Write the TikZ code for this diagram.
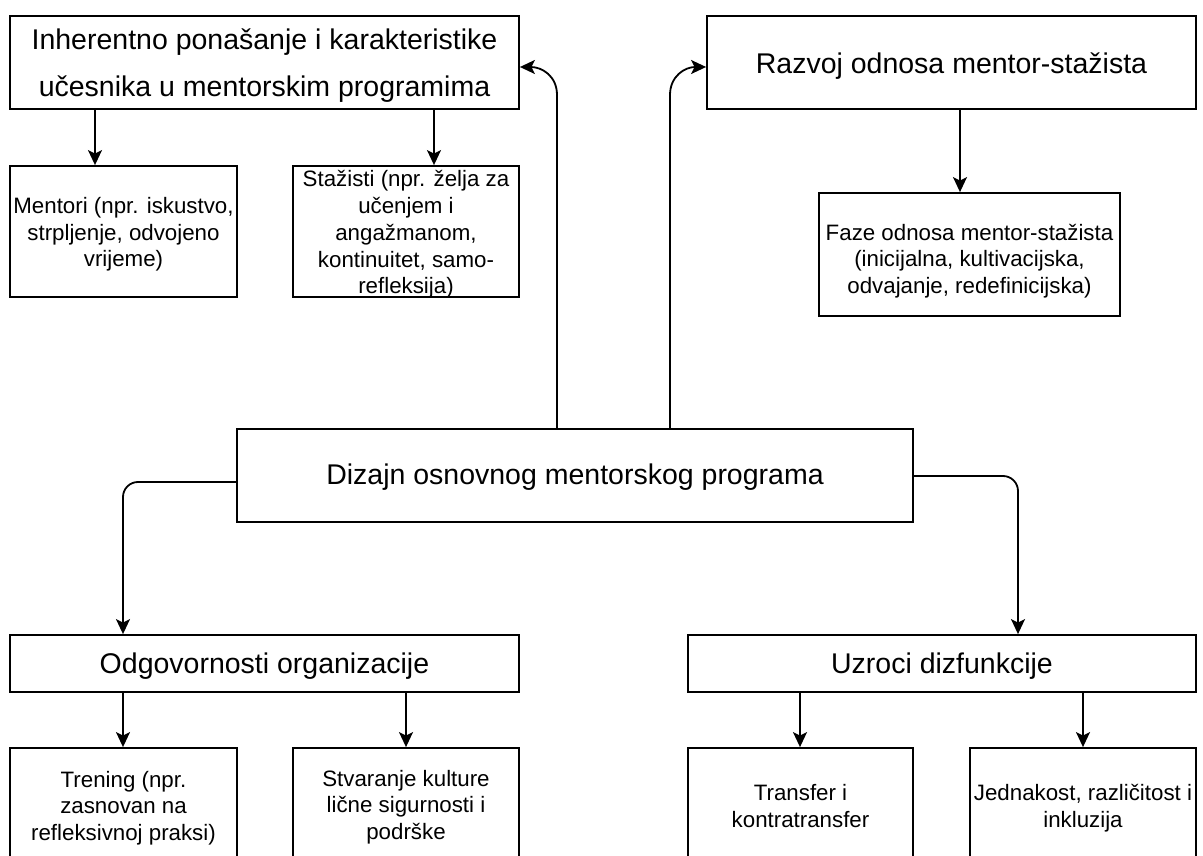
\documentclass[tikz,border=0pt]{standalone}
\usepackage{fontspec}
\setmainfont{Liberation Sans}
\usetikzlibrary{arrows.meta}

% lower a block of text without changing the size TikZ sees
\newcommand\dropby[2]{\raisebox{-#1}[\height][\depth]{#2}}
\newcommand\lines[2]{\parbox{#1}{\centering #2}}

\tikzset{
  box/.style={draw=black, line width=1.8pt, fill=white, inner sep=0pt, align=center},
  bigtxt/.style={font=\fontsize{28.5}{47}\selectfont},
  smalltxt/.style={font=\fontsize{22.3}{26.7}\selectfont},
  arr/.style={draw=black, line width=1.8pt,
    -{Stealth[length=15pt, width=14pt, inset=3.5pt, fill=black]}},
}

\begin{document}
\begin{tikzpicture}[x=1pt, y=-1pt]
\useasboundingbox (0,0) rectangle (1203,856);

% upper level
\node[box, bigtxt, minimum width=509, minimum height=93] (inh) at (264.5,62.5)
  {\dropby{3pt}{\lines{509pt}{Inherentno ponašanje i karakteristike\\učesnika u mentorskim programima}}};
\node[box, bigtxt, minimum width=489, minimum height=93] (raz) at (951.5,62.5)
  {\dropby{4pt}{Razvoj odnosa mentor-stažista}};

\node[box, smalltxt, minimum width=227, minimum height=131] (men) at (123.5,231.5)
  {\dropby{3pt}{\lines{227pt}{Mentori (npr. iskustvo,\\strpljenje, odvojeno\\vrijeme)}}};
\node[box, smalltxt, minimum width=226, minimum height=131] (sta) at (406,231.5)
  {\dropby{3pt}{\lines{226pt}{Stažisti (npr. želja za\\učenjem i\\angažmanom,\\kontinuitet, samo-\\refleksija)}}};
\node[box, smalltxt, minimum width=301, minimum height=123] (faz) at (969.5,254.5)
  {\dropby{6.5pt}{\lines{301pt}{Faze odnosa mentor-stažista\\(inicijalna, kultivacijska,\\odvajanje, redefinicijska)}}};

% central node
\node[box, bigtxt, minimum width=676, minimum height=93] (diz) at (575,475.5)
  {\dropby{1.5pt}{Dizajn osnovnog mentorskog programa}};

% lower level
\node[box, bigtxt, minimum width=509, minimum height=57] (odg) at (264.5,663.5)
  {\dropby{3pt}{Odgovornosti organizacije}};
\node[box, bigtxt, minimum width=508, minimum height=57] (uzr) at (942,663.5)
  {\dropby{3pt}{Uzroci dizfunkcije}};

\node[box, smalltxt, minimum width=227, minimum height=116] (tre) at (123.5,806)
  {\dropby{2pt}{\lines{227pt}{Trening (npr.\\zasnovan na\\refleksivnoj praksi)}}};
\node[box, smalltxt, minimum width=226, minimum height=116] (stv) at (406,806)
  {\dropby{1pt}{\lines{226pt}{Stvaranje kulture\\lične sigurnosti i\\podrške}}};
\node[box, smalltxt, minimum width=225, minimum height=116] (tra) at (800.5,806)
  {\lines{225pt}{Transfer i\\kontratransfer}};
\node[box, smalltxt, minimum width=226, minimum height=116] (jed) at (1083,806)
  {\dropby{2pt}{\lines{226pt}{Jednakost, različitost i\\inkluzija}}};

% connectors
\draw[arr] (inh.south -| 95,0) -- (men.north -| 95,0);
\draw[arr] (inh.south -| 434,0) -- (sta.north -| 434,0);
\draw[arr] (raz.south -| 960,0) -- (faz.north -| 960,0);

\draw[arr] (odg.south -| 123,0) -- (tre.north -| 123,0);
\draw[arr] (odg.south -| 406,0) -- (stv.north -| 406,0);
\draw[arr] (uzr.south -| 800,0) -- (tra.north -| 800,0);
\draw[arr] (uzr.south -| 1083,0) -- (jed.north -| 1083,0);

\draw[arr, rounded corners=15pt] (diz.west |- 0,482) -| (odg.north -| 123,0);
\draw[arr, rounded corners=15pt] (diz.east |- 0,476) -| (uzr.north -| 1018,0);

\coordinate (lbend) at (557,95);
\coordinate (rbend) at (670,95);
\draw[arr] (diz.north -| lbend) -- (lbend)
  .. controls (557,76) and (542,67) .. (inh.east |- 0,67);
\draw[arr] (diz.north -| rbend) -- (rbend)
  .. controls (670,76) and (685,67) .. (raz.west |- 0,67);
\end{tikzpicture}
\end{document}
